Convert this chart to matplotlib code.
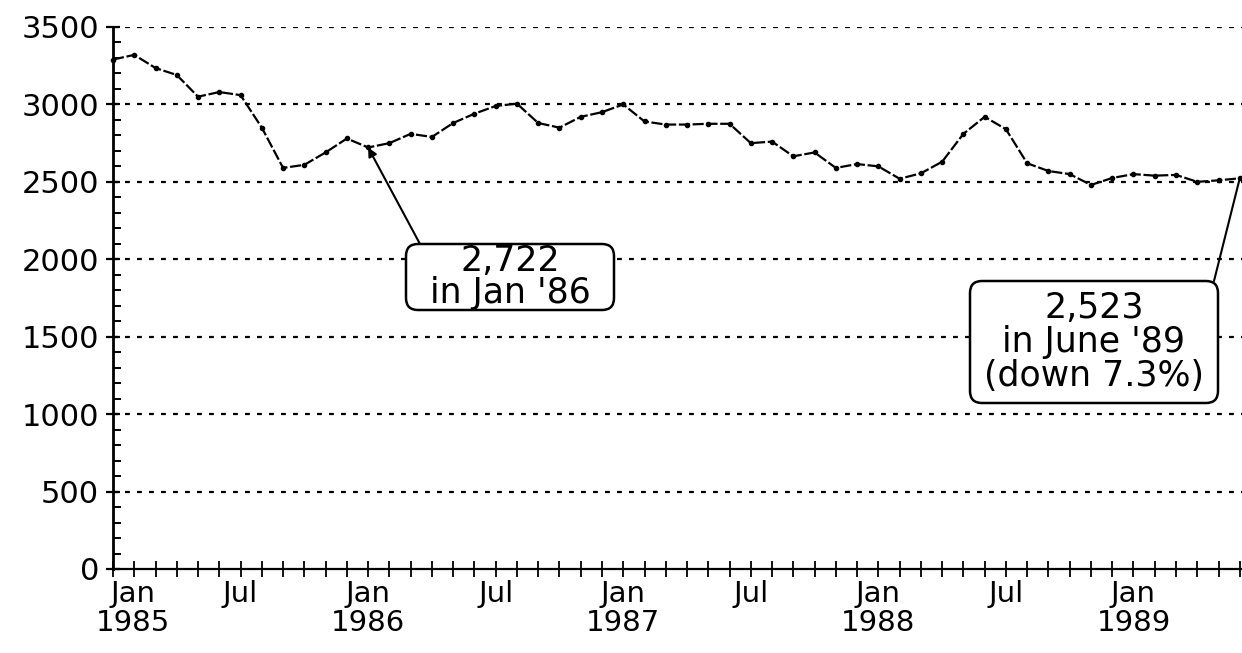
import matplotlib
matplotlib.use("Agg")
import matplotlib.pyplot as plt
from matplotlib.patches import FancyBboxPatch
from matplotlib.transforms import IdentityTransform, ScaledTranslation
from matplotlib.ticker import MultipleLocator, FixedLocator

# ---- data (monthly, Jan 1985 .. Jun 1989) ----
months = ["Jan 1985", "Feb 1985", "Mar 1985", "Apr 1985", "May 1985", "Jun 1985",
          "Jul 1985", "Aug 1985", "Sep 1985", "Oct 1985", "Nov 1985", "Dec 1985",
          "Jan 1986", "Feb 1986", "Mar 1986", "Apr 1986", "May 1986", "Jun 1986",
          "Jul 1986", "Aug 1986", "Sep 1986", "Oct 1986", "Nov 1986", "Dec 1986",
          "Jan 1987", "Feb 1987", "Mar 1987", "Apr 1987", "May 1987", "Jun 1987",
          "Jul 1987", "Aug 1987", "Sep 1987", "Oct 1987", "Nov 1987", "Dec 1987",
          "Jan 1988", "Feb 1988", "Mar 1988", "Apr 1988", "May 1988", "Jun 1988",
          "Jul 1988", "Aug 1988", "Sep 1988", "Oct 1988", "Nov 1988", "Dec 1988",
          "Jan 1989", "Feb 1989", "Mar 1989", "Apr 1989", "May 1989", "Jun 1989"]
values = [3290, 3320, 3235, 3190, 3050, 3080, 3060, 2850, 2590, 2610, 2690, 2780,
          2722, 2750, 2810, 2790, 2880, 2940, 2990, 3005, 2880, 2850, 2920, 2950,
          3000, 2890, 2870, 2870, 2875, 2875, 2750, 2760, 2665, 2690, 2590, 2615,
          2600, 2520, 2555, 2630, 2810, 2920, 2840, 2620, 2570, 2550, 2480, 2525,
          2550, 2540, 2545, 2500, 2510, 2523]

tick_positions = [0, 6, 12, 18, 24, 30, 36, 42, 48]
tick_labels = ["Jan\n1985", "Jul", "Jan\n1986", "Jul", "Jan\n1987", "Jul",
               "Jan\n1988", "Jul", "Jan\n1989"]
y_major = [0, 500, 1000, 1500, 2000, 2500, 3000, 3500]

note1_text = "2,722\nin Jan '86"
note1_index = 12
note2_text = "2,523\nin June '89\n(down 7.3%)"
note2_index = 53

plt.rcParams['font.family'] = ['DejaVu Sans']

W, H = 1242, 653
fig = plt.figure(figsize=(W / 100, H / 100), dpi=100)
fig.patch.set_facecolor("white")

x0, x1 = 113, 1242
y_top, y_bot = 27, 569
ax = fig.add_axes([x0 / W, (H - y_bot) / H, (x1 - x0) / W, (y_bot - y_top) / H])
ax.set_facecolor("white")

x = list(range(len(values)))
ax.plot(x, values, color="black", lw=1.6, linestyle=(0, (5, 1.2)),
        marker="o", ms=3.0, mfc="black", mec="black", zorder=3, clip_on=False)

ax.set_xlim(0, (x1 - x0) / 21.26)
ax.set_ylim(0, 3500)

# gridlines
for yv in y_major[1:]:
    ax.axhline(yv, color="black", lw=1.6, linestyle=(0, (2.2, 3.2)), zorder=1)

for s in ["top", "right"]:
    ax.spines[s].set_visible(False)
ax.spines["left"].set_linewidth(2.0)
ax.spines["bottom"].set_linewidth(1.6)

ax.yaxis.set_major_locator(FixedLocator(y_major))
ax.yaxis.set_minor_locator(MultipleLocator(100))
ax.set_yticklabels([str(v) for v in y_major])
ax.tick_params(axis="y", which="major", direction="inout", length=10, width=1.6,
               labelsize=22, pad=5)
ax.tick_params(axis="y", which="minor", direction="in", length=6, width=1.4)

ax.xaxis.set_major_locator(FixedLocator(tick_positions))
ax.xaxis.set_minor_locator(MultipleLocator(1))
ax.set_xticklabels(tick_labels, linespacing=1.05)
ax.tick_params(axis="x", which="major", direction="inout", length=12, width=1.3,
               labelsize=21, pad=2)
ax.tick_params(axis="x", which="minor", direction="inout", length=12, width=1.3)
# first label sits a little to the right of its tick, as in the reference
first = ax.get_xticklabels()[0]
first.set_transform(first.get_transform() + ScaledTranslation(20 / 100, 0, fig.dpi_scale_trans))

# annotation boxes (in figure pixels, origin bottom-left)
def box(px_left, px_top, px_right, px_bottom):
    p = FancyBboxPatch((px_left, H - px_bottom), px_right - px_left, px_bottom - px_top,
                       boxstyle="round,pad=0,rounding_size=12",
                       transform=IdentityTransform(), facecolor="white",
                       edgecolor="black", lw=1.8, zorder=5)
    fig.patches.append(p)

box(406, 244, 614, 310)
fig.text(510 / W, (H - 277) / H, note1_text, ha="center", va="center",
         fontsize=25, linespacing=0.95, zorder=6)
ax.annotate("", xy=(note1_index, values[note1_index]), xycoords="data",
            xytext=(420, H - 244), textcoords="figure pixels",
            arrowprops=dict(arrowstyle="-|>", color="black", lw=1.5,
                            mutation_scale=13, shrinkA=0, shrinkB=0),
            zorder=4, annotation_clip=False)

box(970, 281, 1218, 403)
fig.text(1094 / W, (H - 342) / H, note2_text, ha="center", va="center",
         fontsize=25, linespacing=1.0, zorder=6)
ax.annotate("", xy=(note2_index, values[note2_index]), xycoords="data",
            xytext=(1214, H - 281), textcoords="figure pixels",
            arrowprops=dict(arrowstyle="-", color="black", lw=1.5,
                            shrinkA=0, shrinkB=0),
            zorder=4, annotation_clip=False)

fig.savefig("out.png", dpi=100, facecolor="white")
